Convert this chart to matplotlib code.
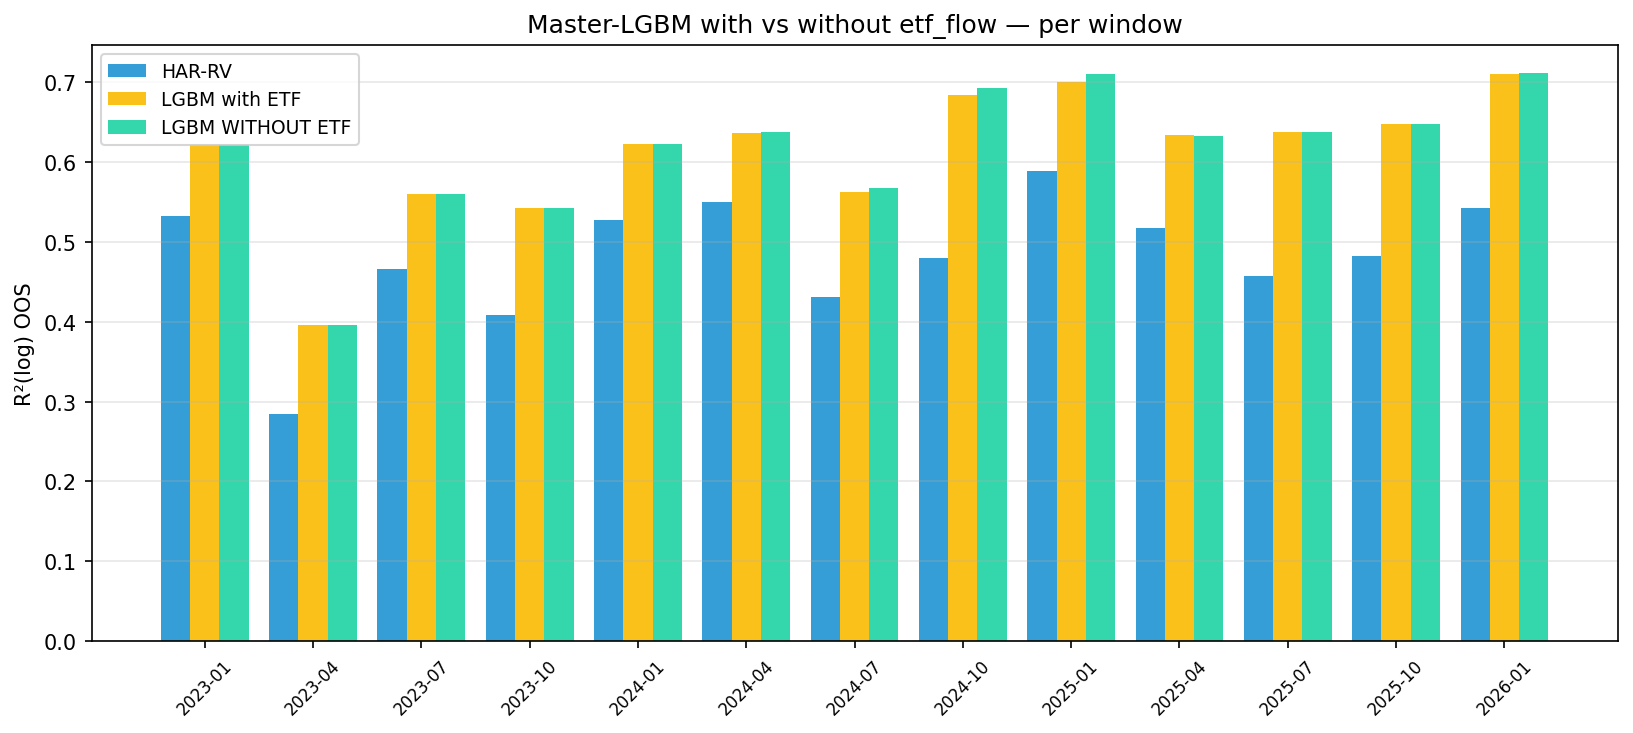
import numpy as np
import matplotlib
matplotlib.use('Agg')
import matplotlib.pyplot as plt

windows = ['2023-01', '2023-04', '2023-07', '2023-10', '2024-01', '2024-04', '2024-07',
           '2024-10', '2025-01', '2025-04', '2025-07', '2025-10', '2026-01']
har_rv = [0.533, 0.285, 0.466, 0.409, 0.527, 0.550, 0.431, 0.480, 0.589, 0.517, 0.457, 0.482, 0.543]
lgbm_etf = [0.622, 0.396, 0.560, 0.542, 0.623, 0.636, 0.563, 0.684, 0.700, 0.634, 0.637, 0.648, 0.710]
lgbm_no_etf = [0.622, 0.396, 0.560, 0.542, 0.623, 0.638, 0.567, 0.692, 0.710, 0.633, 0.638, 0.648, 0.711]

x = np.arange(len(windows))
w = 0.27

fig, ax = plt.subplots(figsize=(10.893, 4.893), dpi=150)
ax.bar(x - w, har_rv, w, color='#359ed6', label='HAR-RV')
ax.bar(x, lgbm_etf, w, color='#fbc11b', label='LGBM with ETF')
ax.bar(x + w, lgbm_no_etf, w, color='#34d6ab', label='LGBM WITHOUT ETF')
ax.set_xticks(x)
ax.set_xticklabels(windows, rotation=45, fontsize=8)
ax.set_ylabel('R²(log) OOS')
ax.set_title('Master-LGBM with vs without etf_flow — per window', fontsize=12)
ax.grid(axis='y', alpha=0.3)
ax.legend(loc='upper left', fontsize=9)
plt.subplots_adjust(left=0.056, right=0.99, top=0.9375, bottom=0.125)
plt.savefig('out.png', dpi=150)
